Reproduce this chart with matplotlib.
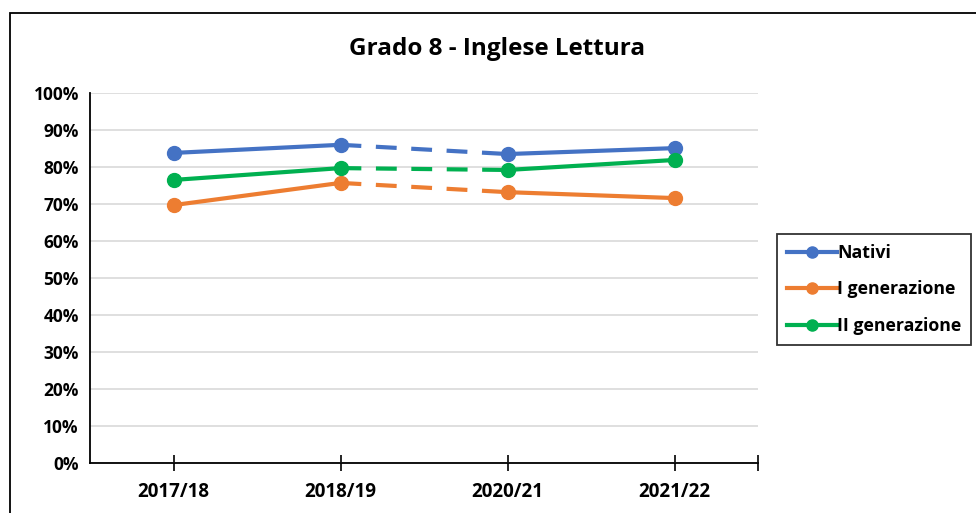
import matplotlib.pyplot as plt
from matplotlib.patches import Rectangle
from matplotlib.ticker import FuncFormatter

years = ["2017/18", "2018/19", "2020/21", "2021/22"]
nativi = [83.8, 86.0, 83.5, 85.1]
prima_gen = [69.7, 75.7, 73.2, 71.6]
seconda_gen = [76.5, 79.7, 79.2, 81.9]

series = [("Nativi", nativi, "#4472C4"),
          ("I generazione", prima_gen, "#ED7D31"),
          ("II generazione", seconda_gen, "#00B050")]

plt.rcParams['font.family'] = ['Open Sans', 'DejaVu Sans']

fig = plt.figure(figsize=(9.76, 5.13), dpi=100)
ax = fig.add_axes([90/976, 1-463/513, (758-90)/976, (463-93)/513])

x = list(range(len(years)))
for name, vals, col in series:
    # solid before and after the gap, dashed between 2018/19 and 2020/21
    ax.plot(x[:2], vals[:2], color=col, lw=3, solid_capstyle='round')
    ax.plot(x[1:3], vals[1:3], color=col, lw=3, ls=(0, (5, 3.5)))
    ax.plot(x[2:], vals[2:], color=col, lw=3, solid_capstyle='round')
    ax.plot(x, vals, 'o', color=col, ms=10)
    ax.plot([], [], '-o', color=col, lw=3, ms=8, label=name)

ax.set_xlim(-0.5, 3.5)
ax.set_ylim(0, 100)
ax.set_yticks(range(0, 101, 10))
ax.yaxis.set_major_formatter(FuncFormatter(lambda v, p: "%d%%" % v))
ax.set_xticks(x + [3.5])
ax.set_xticklabels(years + [""])
ax.grid(axis='y', color='#D9D9D9', lw=1.2)
ax.set_axisbelow(True)
for s in ['top', 'right']:
    ax.spines[s].set_visible(False)
ax.spines['left'].set_linewidth(1.3)
ax.spines['bottom'].set_linewidth(1.3)
ax.tick_params(axis='y', length=0, pad=8, labelsize=12.5)
ax.tick_params(axis='x', direction='inout', length=12, width=1.2, pad=8, labelsize=13.5)
for lab in ax.get_xticklabels() + ax.get_yticklabels():
    lab.set_fontweight('bold')

fig.text(497/976, 1-49/513, "Grado 8 - Inglese Lettura", ha='center', va='center',
         fontsize=17.5, fontweight='bold')

leg = ax.legend(loc='upper left', bbox_to_anchor=(777/976, 1-234/513),
                bbox_transform=fig.transFigure, frameon=True, fancybox=False,
                edgecolor='black', handlelength=2.8, handletextpad=0.05,
                labelspacing=1.05, borderpad=0.55, borderaxespad=0,
                prop={'weight': 'bold', 'size': 12.8})
leg.get_frame().set_linewidth(1.3)

fig.patches.append(Rectangle((10/976, -0.05), 1.0, 1-13/513+0.05, transform=fig.transFigure,
                             fill=False, edgecolor='black', lw=1.3))

fig.savefig("out.png", dpi=100)
